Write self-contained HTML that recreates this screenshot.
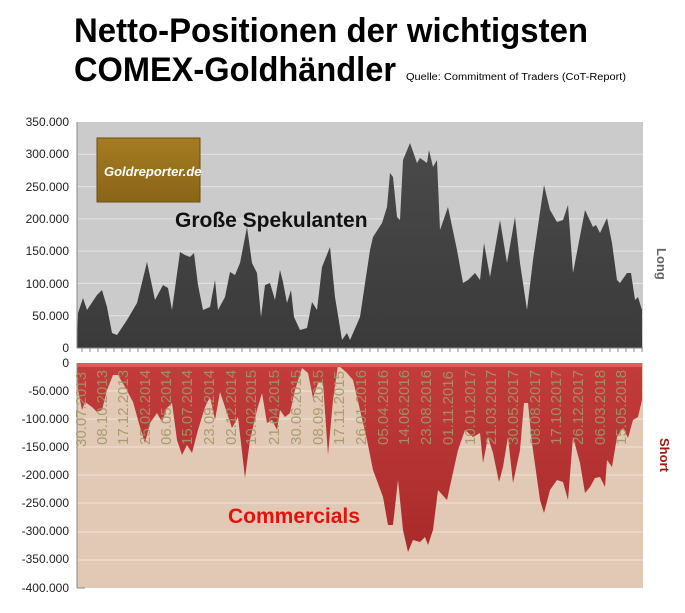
<!DOCTYPE html>
<html><head><meta charset="utf-8"><style>body{margin:0;background:#fff}svg{display:block}</style></head><body>
<svg width="685" height="613" viewBox="0 0 685 613" xmlns="http://www.w3.org/2000/svg" font-family="Liberation Sans, sans-serif">
<defs>
<linearGradient id="gt" x1="0" y1="0" x2="0" y2="1"><stop offset="0" stop-color="#4a4a4a"/><stop offset="1" stop-color="#3a3a3a"/></linearGradient>
<linearGradient id="gb" x1="0" y1="0" x2="0" y2="1"><stop offset="0" stop-color="#c43c3c"/><stop offset="1" stop-color="#a82a2a"/></linearGradient>
<linearGradient id="lg" x1="0" y1="0" x2="0" y2="1"><stop offset="0" stop-color="#a57c22"/><stop offset="1" stop-color="#8a6518"/></linearGradient>
</defs>
<text x="74" y="42" font-size="34" font-weight="bold" textLength="514" lengthAdjust="spacingAndGlyphs">Netto-Positionen der wichtigsten</text>
<text x="74" y="81" font-size="34" font-weight="bold" textLength="322" lengthAdjust="spacingAndGlyphs">COMEX-Goldhändler</text>
<text x="406" y="80" font-size="10" textLength="220" lengthAdjust="spacingAndGlyphs">Quelle: Commitment of Traders (CoT-Report)</text>
<!-- top plot -->
<rect x="77" y="122" width="566" height="226" fill="#cbcbcb"/>
<g stroke="#e4e4e4" stroke-width="1">
<line x1="77" y1="154.3" x2="643" y2="154.3"/><line x1="77" y1="186.6" x2="643" y2="186.6"/><line x1="77" y1="218.9" x2="643" y2="218.9"/><line x1="77" y1="251.1" x2="643" y2="251.1"/><line x1="77" y1="283.4" x2="643" y2="283.4"/><line x1="77" y1="315.7" x2="643" y2="315.7"/>
</g>
<polygon fill="url(#gt)" points="77,348 78,313 83,298 87,310 97,295 102,290 107,307 112,333 117,335 127,320 137,303 147,262 155,300 163,285 168,288 172,310 180,252 185,255 190,257 194,253 198,285 203,310 210,307 215,280 218,310 225,297 230,272 235,275 240,263 247,227 252,263 257,273 261,317 265,285 270,283 275,300 280,270 283,282 287,303 291,290 294,317 300,330 307,328 312,302 317,310 322,267 330,247 335,297 342,340 347,333 350,340 360,317 370,250 373,237 382,223 387,207 390,173 393,177 397,217 400,220 403,160 410,143 417,163 420,158 427,163 429,150 433,167 437,160 440,230 448,207 457,250 463,283 468,280 475,273 480,280 484,243 490,277 500,220 507,263 515,217 520,263 527,310 533,260 544,185 550,210 557,222 563,220 568,205 573,273 585,210 593,227 596,225 600,233 607,218 612,243 617,280 620,283 627,273 631,273 635,300 638,297 642,310 642,348"/>
<line x1="77" y1="348" x2="643" y2="348" stroke="#888"/>
<line x1="77" y1="122" x2="77" y2="348" stroke="#888"/>
<g stroke="#888">
<path d="M82,348v4M90,348v4M98,348v4M106,348v4M114,348v4M122,348v4M130,348v4M138,348v4M146,348v4M154,348v4M162,348v4M170,348v4M178,348v4M186,348v4M194,348v4M202,348v4M210,348v4M218,348v4M226,348v4M234,348v4M242,348v4M250,348v4M258,348v4M266,348v4M274,348v4M282,348v4M290,348v4M298,348v4M306,348v4M314,348v4M322,348v4M330,348v4M338,348v4M346,348v4M354,348v4M362,348v4M370,348v4M378,348v4M386,348v4M394,348v4M402,348v4M410,348v4M418,348v4M426,348v4M434,348v4M442,348v4M450,348v4M458,348v4M466,348v4M474,348v4M482,348v4M490,348v4M498,348v4M506,348v4M514,348v4M522,348v4M530,348v4M538,348v4M546,348v4M554,348v4M562,348v4M570,348v4M578,348v4M586,348v4M594,348v4M602,348v4M610,348v4M618,348v4M626,348v4M634,348v4M642,348v4"/>
</g>
<g font-size="12" text-anchor="end" fill="#222">
<text x="69" y="126">350.000</text><text x="69" y="158">300.000</text><text x="69" y="191">250.000</text><text x="69" y="223">200.000</text><text x="69" y="255">150.000</text><text x="69" y="288">100.000</text><text x="69" y="320">50.000</text><text x="69" y="352">0</text>
<text x="69" y="367">0</text><text x="69" y="395">-50.000</text><text x="69" y="423">-100.000</text><text x="69" y="451">-150.000</text><text x="69" y="479">-200.000</text><text x="69" y="507">-250.000</text><text x="69" y="535">-300.000</text><text x="69" y="563">-350.000</text><text x="69" y="592">-400.000</text>
</g>
<rect x="97" y="138" width="103" height="64" fill="url(#lg)" stroke="#6b4e10"/>
<text x="104" y="176" font-size="13" font-style="italic" font-weight="bold" fill="#fff">Goldreporter.de</text>
<text x="175" y="227" font-size="21" font-weight="bold" fill="#111">Große Spekulanten</text>
<text transform="translate(657,248) rotate(90)" font-size="13" font-weight="bold" fill="#666">Long</text>
<!-- bottom plot -->
<rect x="77" y="363" width="566" height="225" fill="#e2c9b5"/>
<g stroke="#eee2d8" stroke-width="1">
<line x1="77" y1="391" x2="643" y2="391"/><line x1="77" y1="419" x2="643" y2="419"/><line x1="77" y1="447" x2="643" y2="447"/><line x1="77" y1="475" x2="643" y2="475"/><line x1="77" y1="503" x2="643" y2="503"/><line x1="77" y1="532" x2="643" y2="532"/><line x1="77" y1="560" x2="643" y2="560"/>
</g>
<polygon fill="url(#gb)" points="77,363 78,390 82,410 85,402 92,407 97,412 102,410 107,390 113,375 118,375 125,387 133,402 140,427 145,443 150,423 157,413 162,422 167,408 172,403 177,440 182,455 187,445 192,453 198,430 205,407 210,397 215,420 220,392 227,413 232,428 238,417 245,478 250,440 257,410 262,393 267,423 272,420 277,430 280,410 285,417 290,413 295,390 302,368 308,373 313,398 318,383 323,383 328,455 333,400 338,365 347,373 353,380 367,440 373,470 383,497 388,525 393,525 398,480 403,530 408,552 413,540 420,542 425,537 428,545 433,530 438,490 447,500 452,477 458,450 465,430 473,437 480,433 483,463 488,437 493,453 499,482 503,467 508,437 513,483 520,450 524,403 528,403 532,443 540,500 544,513 550,490 557,480 563,482 568,500 573,437 580,463 585,493 590,487 595,478 600,477 605,487 607,460 612,467 617,437 623,428 628,438 633,420 638,417 642,400 642,363"/>
<rect x="77" y="363" width="565" height="4" fill="#e05a5a"/>
<line x1="77" y1="363" x2="77" y2="588" stroke="#888"/>
<line x1="77" y1="588" x2="85" y2="588" stroke="#888"/>
<g font-size="15" fill="#a09868" fill-opacity="0.9">
<text transform="translate(86,447) rotate(-90)">30.07.2013</text>
<text transform="translate(107,445) rotate(-90)">08.10.2013</text>
<text transform="translate(128,445) rotate(-90)">17.12.2013</text>
<text transform="translate(150,445) rotate(-90)">25.02.2014</text>
<text transform="translate(171,445) rotate(-90)">06.05.2014</text>
<text transform="translate(192,445) rotate(-90)">15.07.2014</text>
<text transform="translate(214,445) rotate(-90)">23.09.2014</text>
<text transform="translate(236,445) rotate(-90)">02.12.2014</text>
<text transform="translate(256,445) rotate(-90)">10.02.2015</text>
<text transform="translate(279,445) rotate(-90)">21.04.2015</text>
<text transform="translate(301,445) rotate(-90)">30.06.2015</text>
<text transform="translate(323,445) rotate(-90)">08.09.2015</text>
<text transform="translate(344,445) rotate(-90)">17.11.2015</text>
<text transform="translate(366,445) rotate(-90)">26.01.2016</text>
<text transform="translate(388,445) rotate(-90)">05.04.2016</text>
<text transform="translate(409,445) rotate(-90)">14.06.2016</text>
<text transform="translate(431,445) rotate(-90)">23.08.2016</text>
<text transform="translate(453,445) rotate(-90)">01.11.2016</text>
<text transform="translate(475,445) rotate(-90)">10.01.2017</text>
<text transform="translate(496,445) rotate(-90)">21.03.2017</text>
<text transform="translate(518,445) rotate(-90)">30.05.2017</text>
<text transform="translate(540,445) rotate(-90)">08.08.2017</text>
<text transform="translate(561,445) rotate(-90)">17.10.2017</text>
<text transform="translate(583,445) rotate(-90)">26.12.2017</text>
<text transform="translate(605,445) rotate(-90)">06.03.2018</text>
<text transform="translate(626,445) rotate(-90)">15.05.2018</text>
</g>
<text x="228" y="523" font-size="21" font-weight="bold" fill="#e8100c">Commercials</text>
<text transform="translate(660,438) rotate(90)" font-size="13" font-weight="bold" fill="#a01818">Short</text>
</svg>
</body></html>
